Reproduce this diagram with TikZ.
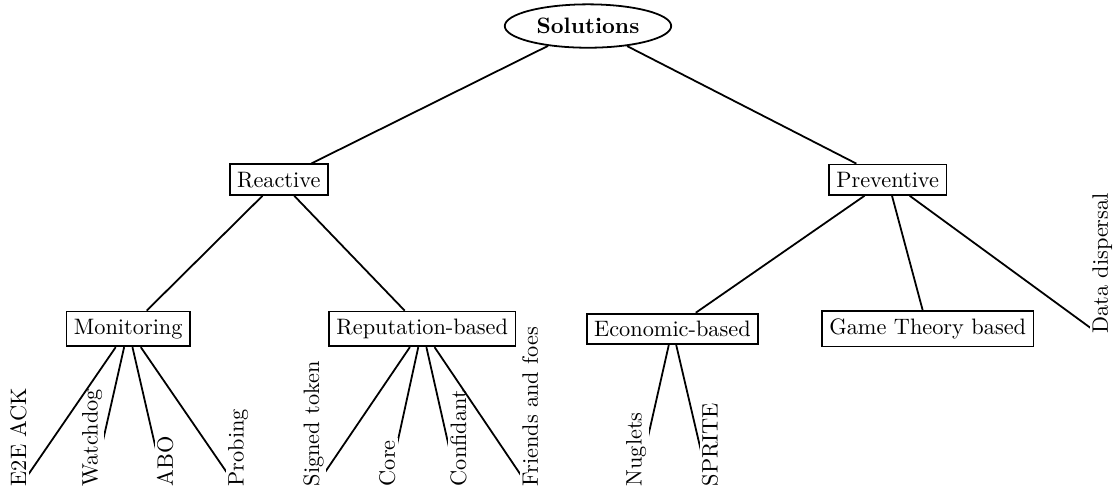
\documentclass[tikz,border=0pt]{standalone}
\usetikzlibrary{shapes.geometric}
\tikzset{
  cat/.style={draw, thick, rectangle},
  leaf/.style={rotate=90, anchor=west, fill=white, inner sep=1pt},
  branch/.style={thick},
  twig/.style={thick, shorten >=1.5pt}
}
\begin{document}
\begin{tikzpicture}
        % Taxonomy of solutions
        \useasboundingbox (0,0) rectangle (17.56,7.73);
        \node[draw, thick, ellipse] (sol) at (9.26,7.32) {\textbf{Solutions}};
        \node[cat] (react) at (4.39,4.90) {Reactive};
        \node[cat] (prev) at (13.98,4.90) {Preventive};
        \node[cat] (mon) at (2.02,2.55) {Monitoring};
        \node[cat] (rep) at (6.65,2.55) {Reputation-based};
        \node[cat] (eco) at (10.59,2.55) {Economic-based};
        \node[cat] (game) at (14.61,2.55) {Game Theory based};
        \draw[branch] (sol) -- (react);
        \draw[branch] (sol) -- (prev);
        \draw[branch] (react) -- (mon);
        \draw[branch] (react) -- (rep);
        \draw[branch] (prev) -- (eco);
        \draw[branch] (prev) -- (game);
        \coordinate (data) at (17.36,2.43);
        \draw[twig] (prev) -- (data);
        \node[leaf] (datatxt) at (data) {Data dispersal};
        % inner leaves first, so the outer lines pass over their boxes
        \foreach \name/\x/\parent/\label in {watch/1.45/mon/Watchdog,abo/2.60/mon/ABO,core/6.10/rep/Core,conf/7.22/rep/Confidant,nug/10.02/eco/Nuglets,sprite/11.18/eco/SPRITE,e2e/0.29/mon/E2E ACK,probe/3.75/mon/Probing,token/4.94/rep/Signed token,foes/8.35/rep/Friends and foes}
        {
            \coordinate (\name) at (\x,0.03);
            \draw[twig] (\parent) -- (\name);
            \node[leaf] (\name txt) at (\name) {\label};
        }
    \end{tikzpicture}
\end{document}
